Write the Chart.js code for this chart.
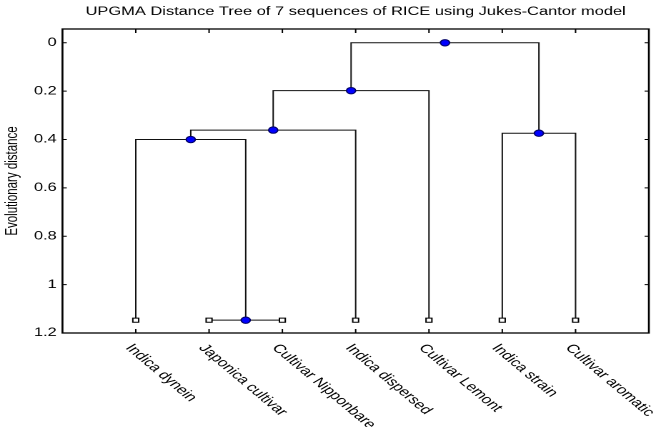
<!DOCTYPE html>
<html>
<head>
<meta charset="utf-8">
<title>UPGMA Distance Tree</title>
<script src="https://cdn.jsdelivr.net/npm/chart.js@4/dist/chart.umd.min.js"></script>
<style>
    body { margin: 0; background: #fff; }
</style>
</head>
<body>
<!-- the reference is a stretched figure, so the canvas is drawn narrow and widened -->
<canvas id="tree" width="459" height="427" style="display:block;width:656px;height:427px"></canvas>
<script>
const chartTitle = 'UPGMA Distance Tree of 7 sequences of RICE using Jukes-Cantor model';
const leafNames = ['Indica dynein', 'Japonica cultivar', 'Cultivar Nipponbare', 'Indica dispersed',
    'Cultivar Lemont', 'Indica strain', 'Cultivar aromatic'];
const leafDistance = [1.147, 1.147, 1.147, 1.147, 1.147, 1.147, 1.147];

// joins: node indexes 0-6 are leaves, every join adds a new node (7, 8, ...)
const joinLeft = [1, 0, 8, 9, 5, 10];
const joinRight = [2, 7, 3, 4, 6, 11];
const joinDistance = [1.147, 0.4, 0.361, 0.198, 0.374, 0];

const yTicks = [0, 0.2, 0.4, 0.6, 0.8, 1, 1.2];

const fontFamily = "'Liberation Sans', Arial, sans-serif";
Chart.defaults.font.family = fontFamily;
Chart.defaults.font.size = 11.5;
Chart.defaults.color = '#000';

// leaves sit at 1..n, each join halfway between its two children
let nodeX = leafNames.map((name, i) => i + 1);
let nodeY = leafDistance.slice();
let branchSets = [];

joinLeft.forEach((a, k) => {
    let b = joinRight[k];
    let h = joinDistance[k];
    nodeX.push((nodeX[a] + nodeX[b]) / 2);
    nodeY.push(h);
    branchSets.push({
        data: [
            { x: nodeX[a], y: nodeY[a] },
            { x: nodeX[a], y: h },
            { x: nodeX[b], y: h },
            { x: nodeX[b], y: nodeY[b] }
        ],
        showLine: true,
        pointRadius: 0,
        borderColor: '#111',
        borderWidth: 1,
        order: 2
    });
});

let leafPoints = leafNames.map((name, i) => ({ x: nodeX[i], y: nodeY[i] }));
let joinPoints = joinDistance.map((h, k) => ({ x: nodeX[leafNames.length + k], y: h }));

// box, inward ticks and the slanted leaf names
const framePlugin = {
    id: 'frame',
    beforeDatasetsDraw(chart) {
        const { ctx, chartArea: a, scales } = chart;
        ctx.save();
        ctx.strokeStyle = '#000';
        ctx.lineWidth = 1.3;
        ctx.strokeRect(a.left, a.top, a.right - a.left, a.bottom - a.top);
        ctx.lineWidth = 1;
        ctx.beginPath();
        leafNames.forEach((name, i) => {
            let x = scales.x.getPixelForValue(i + 1);
            ctx.moveTo(x, a.bottom);
            ctx.lineTo(x, a.bottom - 4);
            ctx.moveTo(x, a.top);
            ctx.lineTo(x, a.top + 4);
        });
        yTicks.forEach(v => {
            let y = scales.y.getPixelForValue(v);
            ctx.moveTo(a.left, y);
            ctx.lineTo(a.left + 3, y);
            ctx.moveTo(a.right, y);
            ctx.lineTo(a.right - 3, y);
        });
        ctx.stroke();
        ctx.restore();
    },
    afterDraw(chart) {
        const { ctx, chartArea: a, scales } = chart;
        ctx.save();
        ctx.font = '12px ' + fontFamily;
        ctx.fillStyle = '#000';
        ctx.textAlign = 'left';
        ctx.textBaseline = 'top';
        leafNames.forEach((name, i) => {
            let x = scales.x.getPixelForValue(i + 1);
            ctx.save();
            ctx.translate(x - 0.5, a.bottom + 9);
            ctx.rotate(50 * Math.PI / 180);
            ctx.fillText(name, 0, 0);
            ctx.restore();
        });
        ctx.restore();
    }
};

new Chart(document.getElementById('tree'), {
    type: 'scatter',
    data: {
        datasets: [
            {
                label: 'joins',
                data: joinPoints,
                pointStyle: 'circle',
                pointRadius: 3.2,
                backgroundColor: '#0000ff',
                borderColor: '#000066',
                borderWidth: 1,
                order: 0
            },
            {
                label: 'leaves',
                data: leafPoints,
                pointStyle: 'rect',
                pointRadius: 2.9,
                backgroundColor: '#fff',
                borderColor: '#000',
                borderWidth: 1,
                order: 1
            },
            ...branchSets
        ]
    },
    options: {
        responsive: false,
        devicePixelRatio: 2,
        animation: false,
        events: [],
        layout: { padding: { left: 0, right: 3.4, top: 0, bottom: 0 } },
        plugins: {
            legend: { display: false },
            tooltip: { enabled: false },
            title: {
                display: true,
                text: chartTitle,
                fullSize: false,
                color: '#000',
                font: { size: 11.5, weight: 'normal' },
                padding: { top: 5, bottom: 10.2 }
            }
        },
        scales: {
            x: {
                type: 'linear',
                min: 0,
                max: 8,
                ticks: { display: false },
                grid: { display: false, drawTicks: false },
                border: { display: false },
                afterFit: s => { s.height = 94; }
            },
            y: {
                type: 'linear',
                reverse: true,
                min: -0.057,
                max: 1.2,
                afterBuildTicks: s => { s.ticks = yTicks.map(v => ({ value: v })); },
                ticks: {
                    padding: 4,
                    color: '#000',
                    autoSkip: false,
                    callback: v => String(Math.round(v * 10) / 10)
                },
                grid: { display: false, drawTicks: false },
                border: { display: false },
                title: {
                    display: true,
                    text: 'Evolutionary distance',
                    color: '#000',
                    font: { size: 11.5 },
                    padding: { top: 2, bottom: 0 }
                },
                afterFit: s => { s.width = 43.7; }
            }
        }
    },
    plugins: [framePlugin]
});
</script>
</body>
</html>
